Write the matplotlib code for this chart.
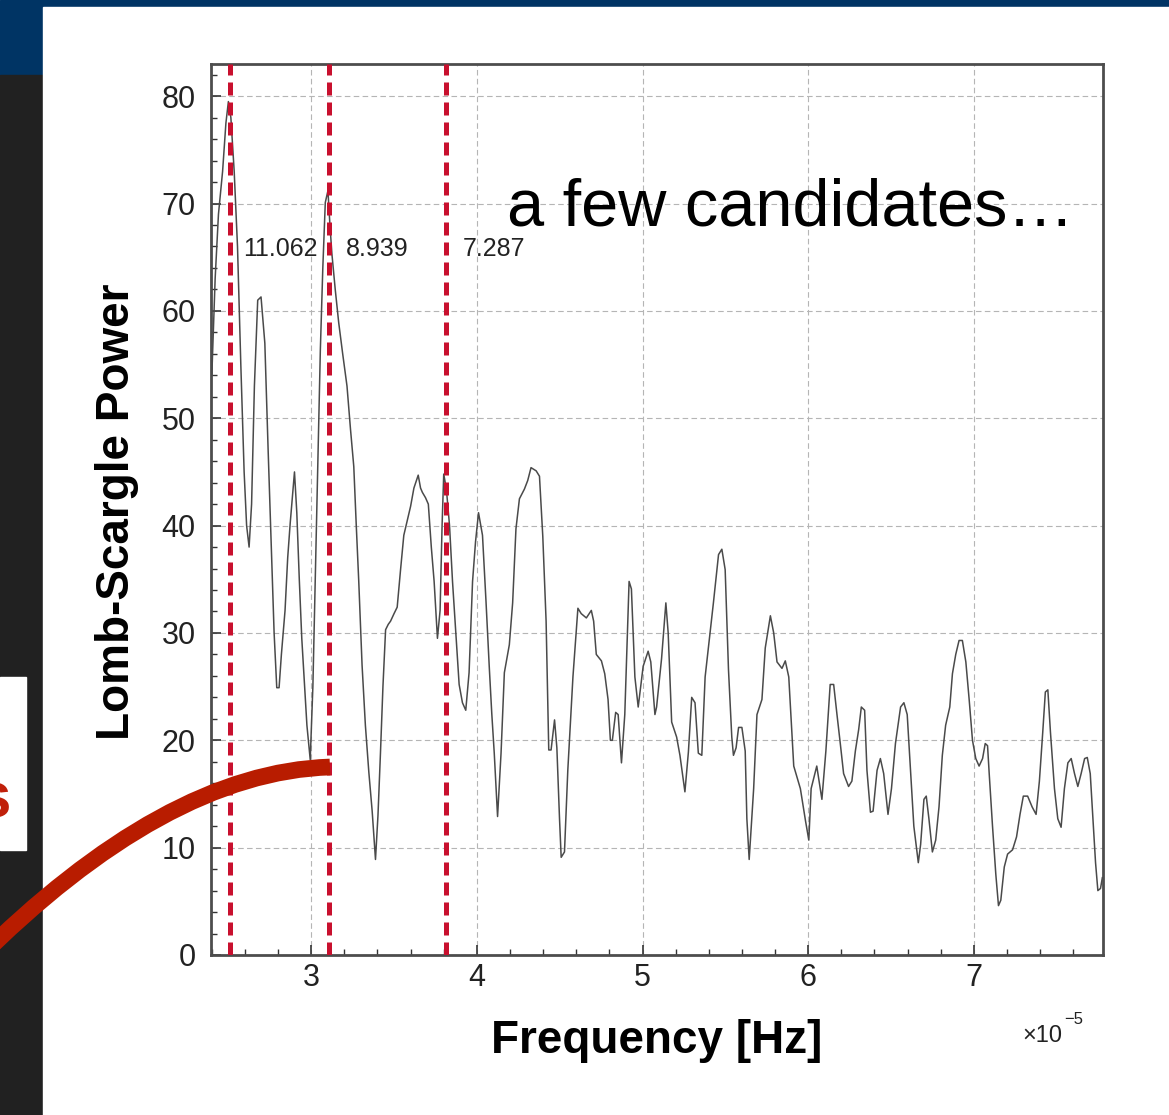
import matplotlib
matplotlib.use("Agg")
import matplotlib.pyplot as plt
from matplotlib.patches import Rectangle, PathPatch
from matplotlib.path import Path
from matplotlib.transforms import Affine2D
from matplotlib.ticker import MultipleLocator

plt.rcParams['font.family'] = ['Liberation Sans', 'DejaVu Sans']

# Lomb-Scargle periodogram, frequency in units of 1e-5 Hz
freq = [2.400, 2.420, 2.440, 2.465, 2.485, 2.500, 2.515, 2.535, 2.555, 2.575,
        2.595, 2.610, 2.625, 2.640, 2.657, 2.677, 2.697, 2.720, 2.740, 2.760,
        2.776, 2.792, 2.806, 2.820, 2.842, 2.858, 2.873, 2.899, 2.913, 2.928,
        2.943, 2.960, 2.974, 2.994, 3.010, 3.024, 3.040, 3.055, 3.070, 3.085,
        3.101, 3.113, 3.125, 3.145, 3.166, 3.190, 3.216, 3.237, 3.257, 3.272,
        3.287, 3.307, 3.327, 3.348, 3.368, 3.388, 3.403, 3.418, 3.433, 3.449,
        3.465, 3.479, 3.500, 3.519, 3.540, 3.559, 3.580, 3.600, 3.620, 3.646,
        3.660, 3.671, 3.690, 3.707, 3.725, 3.742, 3.762, 3.778, 3.790, 3.800,
        3.816, 3.835, 3.853, 3.873, 3.893, 3.913, 3.933, 3.953, 3.974, 3.992,
        4.010, 4.034, 4.055, 4.075, 4.090, 4.105, 4.125, 4.146, 4.166, 4.180,
        4.196, 4.216, 4.236, 4.257, 4.287, 4.307, 4.327, 4.358, 4.378, 4.398,
        4.418, 4.434, 4.448, 4.469, 4.483, 4.499, 4.509, 4.529, 4.549, 4.580,
        4.610, 4.630, 4.661, 4.691, 4.705, 4.721, 4.752, 4.772, 4.792, 4.806,
        4.818, 4.838, 4.853, 4.873, 4.893, 4.919, 4.933, 4.954, 4.974, 5.004,
        5.034, 5.050, 5.075, 5.085, 5.115, 5.141, 5.155, 5.176, 5.206, 5.226,
        5.256, 5.277, 5.297, 5.317, 5.337, 5.358, 5.378, 5.408, 5.428, 5.459,
        5.479, 5.499, 5.519, 5.539, 5.549, 5.565, 5.580, 5.600, 5.620, 5.630,
        5.644, 5.671, 5.691, 5.721, 5.741, 5.772, 5.792, 5.812, 5.842, 5.862,
        5.883, 5.913, 5.953, 5.984, 6.004, 6.018, 6.052, 6.083, 6.107, 6.133,
        6.154, 6.174, 6.194, 6.214, 6.244, 6.264, 6.285, 6.305, 6.321, 6.341,
        6.355, 6.376, 6.392, 6.416, 6.436, 6.456, 6.482, 6.503, 6.527, 6.558,
        6.578, 6.598, 6.618, 6.638, 6.665, 6.679, 6.699, 6.713, 6.729, 6.750,
        6.770, 6.790, 6.810, 6.830, 6.855, 6.871, 6.891, 6.911, 6.931, 6.952,
        6.972, 6.992, 7.012, 7.032, 7.053, 7.069, 7.083, 7.093, 7.113, 7.133,
        7.149, 7.163, 7.184, 7.204, 7.234, 7.258, 7.279, 7.299, 7.325, 7.352,
        7.376, 7.396, 7.416, 7.432, 7.447, 7.463, 7.487, 7.507, 7.527, 7.547,
        7.568, 7.588, 7.608, 7.628, 7.648, 7.669, 7.685, 7.703, 7.719, 7.735,
        7.749, 7.765, 7.776]
power = [54.0, 63.0, 69.0, 73.0, 77.5, 79.5, 78.0, 73.0, 66.0, 55.0,
         45.0, 40.0, 38.0, 42.0, 53.0, 61.0, 61.3, 57.0, 47.0, 37.5,
         30.0, 24.9, 24.9, 28.0, 32.1, 37.0, 40.2, 45.0, 41.2, 35.0,
         29.5, 25.0, 21.4, 18.2, 25.0, 34.8, 46.0, 56.3, 64.0, 70.1,
         71.2, 68.0, 65.3, 62.0, 58.9, 56.0, 53.0, 49.0, 45.5, 40.0,
         34.8, 27.0, 21.4, 17.0, 13.4, 8.9, 13.0, 18.8, 25.0, 30.3,
         30.8, 31.1, 31.8, 32.4, 36.0, 39.1, 40.5, 41.8, 43.5, 44.7,
         43.5, 43.1, 42.6, 42.0, 38.0, 34.8, 29.5, 32.1, 40.0, 44.8,
         43.4, 40.0, 34.8, 30.0, 25.2, 23.5, 22.8, 26.3, 34.8, 38.5,
         41.2, 39.1, 33.0, 26.8, 22.5, 18.8, 12.9, 18.8, 26.3, 27.5,
         28.9, 32.8, 39.7, 42.5, 43.4, 44.2, 45.4, 45.1, 44.6, 39.0,
         31.1, 19.1, 19.1, 21.9, 19.3, 12.7, 9.1, 9.6, 17.2, 25.9,
         32.3, 31.8, 31.4, 32.1, 31.1, 28.0, 27.4, 26.2, 23.8, 20.0,
         20.0, 22.6, 22.4, 17.9, 22.4, 34.8, 34.1, 25.9, 23.1, 26.9,
         28.3, 27.3, 22.4, 23.1, 27.6, 32.8, 30.0, 21.7, 20.3, 18.6,
         15.2, 18.9, 24.0, 23.5, 18.8, 18.6, 25.9, 30.0, 32.8, 37.3,
         37.8, 35.9, 26.6, 20.3, 18.6, 19.3, 21.2, 21.2, 19.0, 12.7,
         8.9, 15.5, 22.4, 23.8, 28.6, 31.6, 30.0, 27.3, 26.7, 27.4,
         25.9, 17.6, 15.5, 12.5, 10.7, 15.5, 17.6, 14.5, 19.0, 25.2,
         25.2, 22.4, 19.7, 16.9, 15.7, 16.2, 19.0, 21.0, 23.1, 22.8,
         17.2, 13.3, 13.4, 17.2, 18.3, 16.9, 13.1, 15.5, 19.7, 23.1,
         23.5, 22.4, 17.2, 12.0, 8.6, 10.3, 14.5, 14.8, 12.7, 9.6,
         10.7, 13.8, 18.6, 21.4, 23.1, 26.2, 28.0, 29.3, 29.3, 27.3,
         23.8, 20.0, 18.3, 17.6, 18.3, 19.7, 19.5, 16.9, 12.0, 7.5,
         4.6, 5.1, 8.2, 9.4, 9.8, 11.0, 13.1, 14.8, 14.8, 13.8,
         13.1, 16.2, 20.7, 24.5, 24.7, 20.7, 15.5, 12.7, 11.9, 15.5,
         17.9, 18.3, 16.9, 15.7, 16.9, 18.3, 18.4, 16.9, 12.7, 8.6,
         6.0, 6.2, 7.2]

# candidate periods in hours
cand_periods = [11.062, 8.939, 7.287]
cand_freq = [1e5 / (p * 3600.0) for p in cand_periods]

xticks = [3, 4, 5, 6, 7]
yticks = [0, 10, 20, 30, 40, 50, 60, 70, 80]

W, H = 1169, 1115
fig = plt.figure(figsize=(W / 100, H / 100), dpi=100)
fig.patch.set_facecolor("white")
px = Affine2D().scale(1.0 / W, -1.0 / H).translate(0, 1) + fig.transFigure

# slide background
fig.add_artist(Rectangle((0, 0), W, 75, transform=px, color="#003464", zorder=-5))
fig.add_artist(Rectangle((0, 75), 43, H - 75, transform=px, color="#212121", zorder=-5))
fig.add_artist(Rectangle((43, 7), W - 43, H - 7, transform=px, color="white", zorder=-4))
fig.add_artist(Rectangle((0, 677), 26, 173, transform=px, color="white", zorder=-3))
fig.text(11, 817, "s", transform=px, fontsize=46, fontweight="bold", color="#c0200a",
         ha="right", va="baseline")

ax = fig.add_axes([211 / W, 1 - 955 / H, (1103 - 211) / W, (955 - 64) / H])
ax.plot(freq, power, color="#4a4a4a", lw=1.1, zorder=3)

label_dx = [0.077, 0.104, 0.103]
for p, f, dx in zip(cand_periods, cand_freq, label_dx):
    ax.axvline(f, color="#c8102e", lw=3.6, ls=(0, (2.6, 1.4)), zorder=4)
    ax.text(f + dx, 65.8, f"{p:.3f}", fontsize=18, color="#222222",
            ha="left", va="center", zorder=5)

ax.set_xlim(2.395, 7.78)
ax.set_ylim(0, 83)
ax.set_xticks(xticks)
ax.set_yticks(yticks)
ax.xaxis.set_minor_locator(MultipleLocator(0.2))
ax.yaxis.set_minor_locator(MultipleLocator(2))
ax.tick_params(which="both", direction="in", top=False, right=False,
               colors="#333333", labelcolor="#222222", labelsize=22)
ax.tick_params(which="major", length=7, width=1.2)
ax.tick_params(which="minor", length=4, width=1.0)
ax.tick_params(axis="y", pad=11)
ax.tick_params(axis="x", pad=6)
ax.grid(True, which="major", color="#b5b5b5", lw=0.8, ls=(0, (5, 3)))
for s in ax.spines.values():
    s.set_color("#4d4d4d")
    s.set_linewidth(2)

fig.text(117, 512, "Lomb-Scargle Power", transform=px, rotation=90, fontsize=33,
         fontweight="bold", ha="center", va="center")
fig.text(657, 1041, "Frequency [Hz]", transform=px, fontsize=33,
         fontweight="bold", ha="center", va="center")
fig.text(1022, 1042, "\u00d710", transform=px, fontsize=17, color="#222222",
         ha="left", va="baseline")
fig.text(1064, 1024, "\u22125", transform=px, fontsize=12, color="#222222",
         ha="left", va="baseline")
fig.text(507, 225, "a few candidates\u2026", transform=px, fontsize=48,
         ha="left", va="baseline")

# red callout curve
curve = Path([(330, 767), (165, 772), (-25, 962)],
             [Path.MOVETO, Path.CURVE3, Path.CURVE3])
fig.add_artist(PathPatch(curve, transform=px, facecolor="none", edgecolor="#b81c00",
                         lw=12, capstyle="butt", zorder=6))

fig.savefig("out.png", dpi=100)
